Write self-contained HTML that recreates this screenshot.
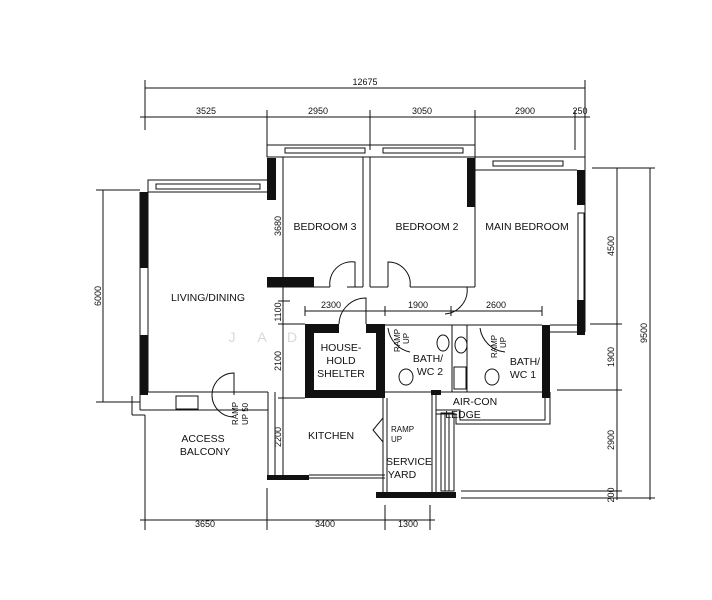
<!DOCTYPE html>
<html><head><style>html,body{margin:0;padding:0;background:#fff}svg{display:block}
text{font-family:"Liberation Sans",sans-serif;fill:#111}
text.wm{fill:#d8d8d8}</style></head><body>
<svg width="712" height="600" viewBox="0 0 712 600" xmlns="http://www.w3.org/2000/svg">
<g stroke="#111" stroke-width="1" fill="none">
<line x1="145" y1="88" x2="585" y2="88"/>
<line x1="145" y1="80" x2="145" y2="130"/><line x1="585" y1="80" x2="585" y2="160"/>
<line x1="140" y1="117" x2="590" y2="117"/>
<line x1="267" y1="110" x2="267" y2="150"/><line x1="370" y1="110" x2="370" y2="150"/>
<line x1="475" y1="110" x2="475" y2="150"/><line x1="575" y1="110" x2="575" y2="150"/>
<line x1="617" y1="168" x2="617" y2="500"/><line x1="650" y1="168" x2="650" y2="500"/>
<line x1="592" y1="168" x2="655" y2="168"/><line x1="590" y1="324" x2="622" y2="324"/>
<line x1="557" y1="390" x2="622" y2="390"/><line x1="461" y1="491" x2="622" y2="491"/>
<line x1="461" y1="498" x2="655" y2="498"/>
<line x1="103" y1="190" x2="103" y2="402"/><line x1="96" y1="190" x2="140" y2="190"/><line x1="96" y1="402" x2="140" y2="402"/>
<line x1="140" y1="520" x2="435" y2="520"/>
<line x1="145" y1="415" x2="145" y2="530"/><line x1="267" y1="488" x2="267" y2="530"/>
<line x1="385" y1="505" x2="385" y2="530"/><line x1="430" y1="505" x2="430" y2="530"/>
<line x1="283" y1="200" x2="283" y2="475"/>
<line x1="278" y1="301" x2="290" y2="301"/><line x1="278" y1="324" x2="305" y2="324"/><line x1="278" y1="398" x2="305" y2="398"/>
<line x1="305" y1="311" x2="542" y2="311"/>
<line x1="305" y1="306" x2="305" y2="316"/><line x1="385" y1="306" x2="385" y2="316"/><line x1="451" y1="306" x2="451" y2="316"/><line x1="542" y1="306" x2="542" y2="316"/>
<rect x="148" y="180" width="120" height="12"/><rect x="156" y="184" width="104" height="5"/>
<line x1="148" y1="192" x2="148" y2="392"/><line x1="140" y1="192" x2="140" y2="410"/>
<line x1="148" y1="392" x2="268" y2="392"/><line x1="140" y1="410" x2="268" y2="410"/>
<line x1="268" y1="392" x2="268" y2="478"/><line x1="275" y1="392" x2="275" y2="478"/>
<line x1="132" y1="396" x2="132" y2="415"/><line x1="132" y1="415" x2="145" y2="415"/>
<rect x="176" y="396" width="22" height="13"/>
<path d="M212 395 A22 22 0 0 1 234 373 L234 395"/>
<path d="M212 395 A22 22 0 0 0 234 417"/>
<rect x="267" y="145" width="208" height="12"/>
<rect x="285" y="148" width="80" height="5"/><rect x="383" y="148" width="80" height="5"/>
<line x1="283" y1="157" x2="283" y2="287"/>
<line x1="363" y1="157" x2="363" y2="287"/><line x1="370" y1="157" x2="370" y2="287"/>
<line x1="475" y1="157" x2="475" y2="287"/>
<line x1="267" y1="287" x2="330" y2="287"/><line x1="347" y1="287" x2="363" y2="287"/>
<line x1="370" y1="287" x2="388" y2="287"/><line x1="410" y1="287" x2="475" y2="287"/>
<path d="M330 287 A22 22 0 0 1 355 262 L355 287"/>
<path d="M388 287 L388 262 A22 22 0 0 1 410 287"/>
<path d="M467 287 A24 24 0 0 1 445 314"/>
<line x1="475" y1="157" x2="585" y2="157"/><line x1="475" y1="170" x2="577" y2="170"/>
<rect x="493" y="161" width="70" height="5"/>
<line x1="585" y1="157" x2="585" y2="332"/>
<rect x="578" y="213" width="6" height="88"/>
<line x1="550" y1="325" x2="577" y2="325"/><line x1="550" y1="332" x2="585" y2="332"/>
<line x1="383" y1="325" x2="542" y2="325"/>
<line x1="385" y1="392" x2="542" y2="392"/>
<line x1="452" y1="325" x2="452" y2="392"/><line x1="467" y1="325" x2="467" y2="392"/>
<ellipse cx="461" cy="345" rx="6" ry="8"/><rect x="454" y="367" width="12" height="22"/>
<ellipse cx="406" cy="377" rx="7" ry="8"/><ellipse cx="492" cy="377" rx="7" ry="8"/>
<path d="M388 328 A28 28 0 0 0 410 352"/><path d="M480 328 A28 28 0 0 0 505 352"/>
<ellipse cx="443" cy="343" rx="6" ry="8"/>
<path d="M339 324 A27 27 0 0 1 366 298 L366 324"/>
<line x1="383" y1="398" x2="383" y2="492"/><line x1="387" y1="398" x2="387" y2="492"/>
<line x1="432" y1="395" x2="432" y2="492"/><line x1="436" y1="395" x2="436" y2="492"/>
<rect x="441" y="413" width="13" height="78"/>
<line x1="445" y1="413" x2="445" y2="491"/><line x1="449" y1="413" x2="449" y2="491"/>
<path d="M436 410 L460 410 L460 420 L545 420 L545 392"/>
<path d="M436 414 L456 414 L456 424 L550 424 L550 392"/>
<path d="M383 418 L373 430 L383 442"/>
<line x1="268" y1="478" x2="385" y2="478"/><line x1="309" y1="475" x2="385" y2="475"/>
</g>
<g fill="#111">
<rect x="140" y="192" width="8" height="76"/><rect x="140" y="335" width="8" height="60"/>
<rect x="267" y="158" width="9" height="42"/><rect x="267" y="277" width="47" height="10"/>
<rect x="467" y="158" width="8" height="49"/>
<rect x="577" y="170" width="8" height="35"/><rect x="577" y="300" width="8" height="35"/>
<rect x="305" y="324" width="80" height="9"/><rect x="305" y="324" width="9" height="74"/>
<rect x="376" y="324" width="9" height="74"/><rect x="305" y="390" width="80" height="8"/>
<rect x="339" y="324" width="27" height="9" fill="#fff"/>
<rect x="542" y="325" width="8" height="73"/>
<rect x="267" y="475" width="42" height="5"/>
<rect x="376" y="492" width="80" height="6"/>
<rect x="431" y="390" width="10" height="5"/>
</g>
<g font-size="9" text-anchor="middle">
<text x="365" y="85">12675</text>
<text x="206" y="114">3525</text><text x="318" y="114">2950</text><text x="422" y="114">3050</text>
<text x="525" y="114">2900</text><text x="580" y="114">250</text>
<text x="331" y="308">2300</text><text x="418" y="308">1900</text><text x="496" y="308">2600</text>
<text x="205" y="527">3650</text><text x="325" y="527">3400</text><text x="408" y="527">1300</text>
<text transform="translate(101,296) rotate(-90)">6000</text>
<text transform="translate(614,246) rotate(-90)">4500</text>
<text transform="translate(614,357) rotate(-90)">1900</text>
<text transform="translate(614,440) rotate(-90)">2900</text>
<text transform="translate(614,495) rotate(-90)">200</text>
<text transform="translate(647,333) rotate(-90)">9500</text>
<text transform="translate(281,226) rotate(-90)">3680</text>
<text transform="translate(281,312) rotate(-90)">1100</text>
<text transform="translate(281,361) rotate(-90)">2100</text>
<text transform="translate(281,437) rotate(-90)">2200</text>
</g>
<g font-size="10.5" text-anchor="middle">
<text x="325" y="230">BEDROOM 3</text><text x="427" y="230">BEDROOM 2</text><text x="527" y="230">MAIN BEDROOM</text>
<text x="208" y="301">LIVING/DINING</text>
<text x="341" y="351">HOUSE-</text><text x="341" y="364">HOLD</text><text x="341" y="377">SHELTER</text>
<text x="428" y="362">BATH/</text><text x="430" y="375">WC 2</text>
<text x="525" y="365">BATH/</text><text x="523" y="378">WC 1</text>
<text x="475" y="405">AIR-CON</text><text x="463" y="418">LEDGE</text>
<text x="331" y="439">KITCHEN</text>
<text x="203" y="442">ACCESS</text><text x="205" y="455">BALCONY</text>
<text x="409" y="465">SERVICE</text><text x="402" y="478">YARD</text>
</g>
<g font-size="8">
<text x="391" y="432">RAMP</text><text x="391" y="442">UP</text>
<text transform="translate(400,352) rotate(-90)">RAMP</text><text transform="translate(409,344) rotate(-90)">UP</text>
<text transform="translate(497,358) rotate(-90)">RAMP</text><text transform="translate(506,348) rotate(-90)">UP</text>
<text transform="translate(238,425) rotate(-90)">RAMP</text><text transform="translate(248,425) rotate(-90)">UP 50</text>
</g>
<g font-size="14" text-anchor="middle">
<text class="wm" x="232" y="342">J</text><text class="wm" x="262" y="342">A</text><text class="wm" x="292" y="342">D</text>
</g>
</svg>
</body></html>
